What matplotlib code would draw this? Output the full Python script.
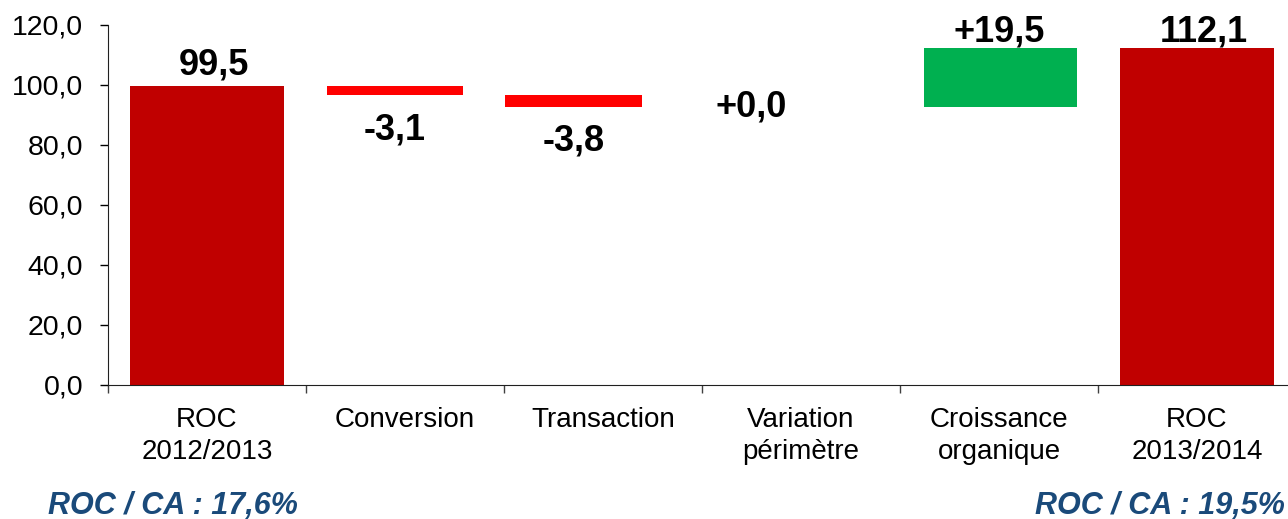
# Waterfall ROC 2012/2013 -> 2013/2014
import matplotlib.pyplot as plt
import numpy as np

plt.rcParams['font.family'] = ['Liberation Sans', 'DejaVu Sans']

# Data
categories = ['ROC\n2012/2013', 'Conversion', 'Transaction', 'Variation\npérimètre',
              'Croissance\norganique', 'ROC\n2013/2014']
start_value = 99.5
deltas = [-3.1, -3.8, 0.0, 19.5]
end_value = 112.1
value_labels = ['99,5', '-3,1', '-3,8', '+0,0', '+19,5', '112,1']
ratio_labels = ['ROC / CA : 17,6%', 'ROC / CA : 19,5%']

dark_red = '#C00000'
bright_red = '#FF0000'
green = '#00B050'
navy = '#1A4A7A'

fig = plt.figure(figsize=(12.88, 5.19), dpi=100)
ax = fig.add_axes([108 / 1288, 1 - 384.5 / 519, 1188 / 1288, 360 / 519])

x = np.arange(len(categories))
w_total = 0.773
w_neg = 0.69

# running level before each delta
levels = start_value + np.concatenate([[0], np.cumsum(deltas)])

# totals
ax.bar(x[0], start_value, width=w_total, color=dark_red, zorder=2)
ax.bar(x[-1], end_value, width=w_total, color=dark_red, zorder=2)

# deltas (the red ones sit slightly left in the original)
neg_shift = [-0.05, -0.15, -0.25, 0.0]
for i, d in enumerate(deltas):
    pos = x[i + 1]
    lo = min(levels[i], levels[i + 1])
    if d < 0:
        ax.bar(pos + neg_shift[i], -d, bottom=lo, width=w_neg, color=bright_red, zorder=2)
    elif d > 0:
        ax.bar(pos + 0.008, d, bottom=lo, width=w_total, color=green, zorder=2)

lab_kw = dict(fontsize=26, fontweight='bold', ha='center', textcoords='offset points')
# total labels
ax.annotate(value_labels[0], (x[0] + 0.035, start_value), xytext=(0, 8), va='baseline', **lab_kw)
ax.annotate(value_labels[-1], (x[-1] + 0.035, end_value), xytext=(0, 5), va='baseline', **lab_kw)
# delta labels
for i, d in enumerate(deltas):
    pos = x[i + 1]
    lo = min(levels[i], levels[i + 1])
    hi = max(levels[i], levels[i + 1])
    if d < 0:
        ax.annotate(value_labels[i + 1], (pos + neg_shift[i], lo), xytext=(0, -25), va='center', **lab_kw)
    elif d > 0:
        ax.annotate(value_labels[i + 1], (pos, hi), xytext=(0, 5), va='baseline', **lab_kw)
    else:
        ax.annotate(value_labels[i + 1], (pos - 0.25, hi), xytext=(0, 0), va='center', **lab_kw)

ax.set_xlim(-0.5, len(categories) - 0.5)
ax.set_ylim(0, 120)
ax.set_yticks(np.arange(0, 121, 20))
ax.set_yticklabels([f'{v:.1f}'.replace('.', ',') for v in np.arange(0, 121, 20)], fontsize=20.5)
ax.tick_params(axis='y', length=6, width=1, pad=12, colors='black')

# tick marks between categories, labels at the centres
ax.set_xticks(np.arange(-0.5, len(categories), 1.0))
ax.set_xticklabels([])
ax.set_xticks(x, minor=True)
ax.set_xticklabels(categories, minor=True, fontsize=20, linespacing=1.3)
ax.tick_params(axis='x', which='major', length=6, width=1, color='#404040')
ax.tick_params(axis='x', which='minor', length=0, pad=16)

for s in ['top', 'right']:
    ax.spines[s].set_visible(False)
ax.spines['left'].set_color('#202020')
ax.spines['bottom'].set_color('#202020')

fig.text(48 / 1288, 5 / 519, ratio_labels[0], fontsize=22, fontweight='bold', fontstyle='italic',
         color=navy, ha='left', va='baseline')
fig.text(1285 / 1288, 5 / 519, ratio_labels[1], fontsize=22, fontweight='bold', fontstyle='italic',
         color=navy, ha='right', va='baseline')

fig.savefig('out.png', dpi=100)
